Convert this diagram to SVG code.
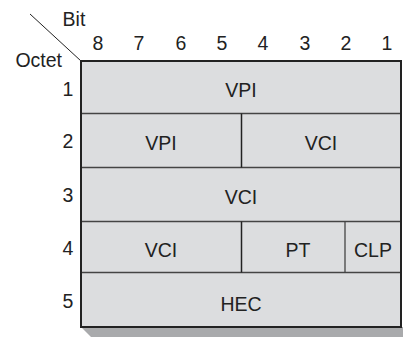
<svg xmlns="http://www.w3.org/2000/svg" width="403" height="337" viewBox="0 0 403 337">
<style>
text{font-family:"Liberation Sans",Arial,sans-serif;font-size:19.5px;fill:#222}
.c{text-anchor:middle}
.cell{fill:#dcdddf}
.hl{stroke:#444;stroke-width:1.3;fill:none}
.vl{stroke:#222;stroke-width:1.5;fill:none}
</style>
<rect width="403" height="337" fill="#fff"/>
<g id="header">
<line x1="30" y1="14" x2="81" y2="61" stroke="#222" stroke-width="1"/>
<text class="c" x="74" y="26">Bit</text>
<text x="62" y="67" text-anchor="end">Octet</text>
<text class="c" x="98" y="50">8</text>
<text class="c" x="139" y="50">7</text>
<text class="c" x="181" y="50">6</text>
<text class="c" x="222" y="50">5</text>
<text class="c" x="263" y="50">4</text>
<text class="c" x="305" y="50">3</text>
<text class="c" x="346" y="50">2</text>
<text class="c" x="387" y="50">1</text>
<text class="c" x="68" y="96">1</text>
<text class="c" x="68" y="148">2</text>
<text class="c" x="68" y="202">3</text>
<text class="c" x="68" y="255">4</text>
<text class="c" x="68" y="308">5</text>
</g>
<polygon id="shadow" points="81,327 403,327 403,337 91,337" fill="#a9aaac"/>
<g id="row1"><rect class="cell" x="81" y="61" width="320" height="52.5"/><text class="c" x="241" y="97">VPI</text></g>
<g id="row2-vpi"><rect class="cell" x="81" y="113.5" width="160" height="54"/><text class="c" x="161" y="150">VPI</text></g>
<g id="row2-vci"><rect class="cell" x="241" y="113.5" width="160" height="54"/><text class="c" x="321" y="150">VCI</text></g>
<g id="row3"><rect class="cell" x="81" y="167.5" width="320" height="54"/><text class="c" x="241" y="204">VCI</text></g>
<g id="row4-vci"><rect class="cell" x="81" y="221.5" width="160" height="51"/><text class="c" x="161" y="257">VCI</text></g>
<g id="row4-pt"><rect class="cell" x="241" y="221.5" width="104" height="51"/><text class="c" x="298" y="257">PT</text></g>
<g id="row4-clp"><rect class="cell" x="345" y="221.5" width="56" height="51"/><text class="c" x="373" y="257">CLP</text></g>
<g id="row5"><rect class="cell" x="81" y="272.5" width="320" height="54.5"/><text class="c" x="241" y="311">HEC</text></g>
<g id="connectors">
<line class="hl" x1="81" y1="113.5" x2="401" y2="113.5"/>
<line class="hl" x1="81" y1="167.5" x2="401" y2="167.5"/>
<line class="hl" x1="81" y1="221.5" x2="401" y2="221.5"/>
<line class="hl" x1="81" y1="272.5" x2="401" y2="272.5"/>
<line class="vl" x1="241.5" y1="113.5" x2="241.5" y2="167.5"/>
<line class="vl" x1="241.5" y1="221.5" x2="241.5" y2="272.5"/>
<line class="hl" x1="345" y1="221.5" x2="345" y2="272.5"/>
<rect x="81" y="61" width="320" height="266" fill="none" stroke="#222" stroke-width="2"/>
</g>
</svg>
